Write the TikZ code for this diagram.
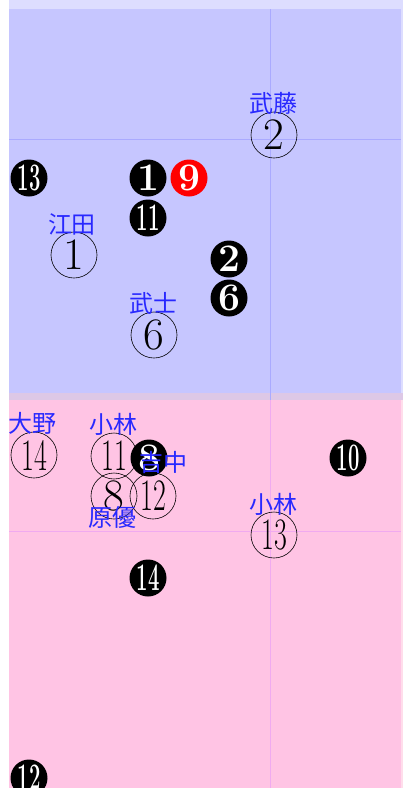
\documentclass[tikz,border=0pt]{standalone}
\usepackage{fontspec}
\usepackage{graphicx}
\newfontfamily\jpfont{Noto Sans CJK JP}
\definecolor{TopBand}{RGB}{221,221,255}
\definecolor{FieldBlue}{RGB}{198,198,255}
\definecolor{Overlap}{RGB}{221,200,230}
\definecolor{FieldPink}{RGB}{255,196,228}
\definecolor{EdgePink}{RGB}{255,221,235}
\definecolor{LineBlue}{RGB}{170,170,255}
\definecolor{LinePink}{RGB}{240,170,240}
\definecolor{NameBlue}{RGB}{40,40,255}
\newcommand{\twoopen}[1]{\scalebox{0.62}[1]{#1}}
\newcommand{\twofull}[1]{\scalebox{0.52}[1]{#1}}

\begin{document}
\begin{tikzpicture}[x=1pt, y=-1pt,
    ownman/.style={circle, draw=black, semithick, minimum size=46pt, inner sep=0pt,
      font=\fontsize{45}{45}\selectfont},
    oppman/.style={circle, fill=black, text=white, minimum size=37pt, inner sep=0pt,
      font=\fontsize{39}{39}\selectfont\bfseries},
    namelbl/.style={text=NameBlue, inner sep=0pt, font=\jpfont\fontsize{24}{24}\selectfont}]
  \useasboundingbox (0,0) rectangle (403,788);
  % field halves
  \fill[TopBand] (9,0) rectangle (403,393);
  \fill[FieldBlue] (9,9) rectangle (401,393);
  \fill[Overlap] (9,393) rectangle (403,400);
  \fill[EdgePink] (9,400) rectangle (403,788);
  \fill[FieldPink] (9,400) rectangle (401,788);
  \draw[LineBlue, very thin] (270,9) -- (270,400);
  \draw[LineBlue, very thin] (9,139) -- (401,139);
  \draw[LinePink, very thin] (270,400) -- (270,788);
  \draw[LinePink, very thin] (9,531) -- (401,531);

  % own side
  \node[ownman] (own2) at (274,135) {2};
  \node[ownman] (own1) at (74,255) {1};
  \node[ownman] (own6) at (154,335) {6};
  \node[ownman] (own14) at (34,455) {\twoopen{14}};
  \node[ownman] (own11) at (114,456) {\twoopen{11}};
  \node[ownman] (own8) at (114,496) {8};
  \node[ownman] (own12) at (153,496) {\twoopen{12}};
  \node[ownman] (own13) at (274,535) {\twoopen{13}};

  % other side
  \node[oppman] (opp13) at (29,178) {\twofull{13}};
  \node[oppman] (opp1) at (148,178) {1};
  \node[oppman, fill=red] (opp9) at (189,178) {9};
  \node[oppman] (opp11) at (148,218) {\twofull{11}};
  \node[oppman] (opp2) at (229,259) {2};
  \node[oppman] (opp6) at (229,298) {6};
  \node[oppman] (opp8) at (149,458) {8};
  \node[oppman] (opp10) at (348,458) {\twofull{10}};
  \node[oppman] (opp14) at (148,578) {\twofull{14}};
  \node[oppman] (opp12) at (29,778) {\twofull{12}};

  % names
  \node[namelbl] (nm2) at (273,103) {武藤};
  \node[namelbl] (nm1) at (72,224) {江田};
  \node[namelbl] (nm6) at (153,303) {武士};
  \node[namelbl] (nm14) at (33,423) {大野};
  \node[namelbl] (nm11) at (113,424) {小林};
  \node[namelbl] (nm12) at (163,462) {吉中};
  \node[namelbl] (nm8) at (112,517) {原優};
  \node[namelbl] (nm13) at (273,504) {小林};
\end{tikzpicture}
\end{document}
